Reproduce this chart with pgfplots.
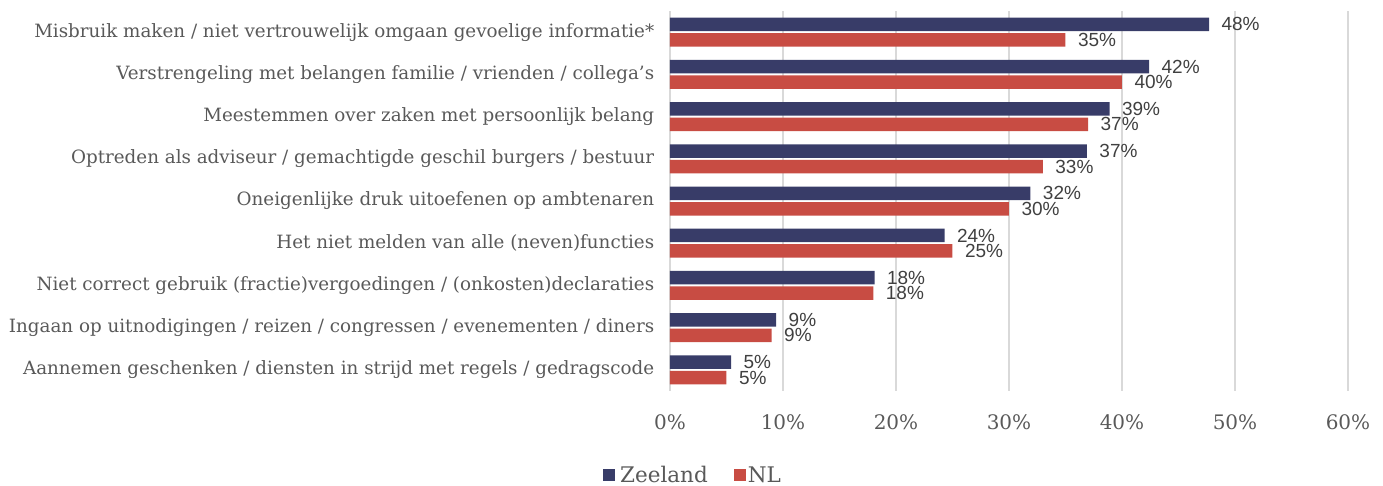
\documentclass[border=0pt]{standalone}
\usepackage{pgfplots}
\pgfplotsset{compat=1.18}
\usepackage{fontspec}
\setmainfont{DejaVu Serif}
\newfontfamily\numfont{Liberation Sans}
\definecolor{zee}{HTML}{383C68}
\definecolor{nl}{HTML}{C84C43}
\definecolor{lbl}{HTML}{595959}
\definecolor{dl}{HTML}{404040}
\definecolor{gridc}{HTML}{D9D9D9}
\begin{document}
\begin{tikzpicture}
\useasboundingbox (-670pt,-95pt) rectangle (713pt,391pt);
\begin{axis}[
  at={(0pt,0pt)}, anchor=south west,
  scale only axis, width=678pt, height=380pt,
  xmin=0, xmax=60, ymin=0.5, ymax=9.5, y dir=reverse,
  xtick={0,10,...,60},
  xticklabel={\pgfmathprintnumber{\tick}\%},
  /pgf/number format/assume math mode=true,
  xticklabel style={font=\fontsize{20}{24}\selectfont, text=lbl, yshift=-20pt},
  ytick={1,...,9},
  yticklabels={
    {Misbruik maken / niet vertrouwelijk omgaan gevoelige informatie*},
    {Verstrengeling met belangen familie / vrienden / collega's},
    {Meestemmen over zaken met persoonlijk belang},
    {Optreden als adviseur / gemachtigde geschil burgers / bestuur},
    {Oneigenlijke druk uitoefenen op ambtenaren},
    {Het niet melden van alle (neven)functies},
    {Niet correct gebruik (fractie)vergoedingen / (onkosten)declaraties},
    {Ingaan op uitnodigingen / reizen / congressen / evenementen / diners},
    {Aannemen geschenken / diensten in strijd met regels / gedragscode}},
  yticklabel style={font=\fontsize{18.3}{22}\selectfont, text=lbl, xshift=-8pt},
  axis line style={draw=none},
  tick style={draw=none},
  xmajorgrids,
  major grid style={draw=gridc, line width=1.2pt},
  xbar, bar width=13.5pt,
  nodes near coords={\pgfmathprintnumber[fixed,precision=0]{\pgfplotspointmeta}\%},
  nodes near coords style={font=\numfont\fontsize{19}{22}\selectfont, text=dl, anchor=west, xshift=9pt},
  point meta=explicit,
  legend style={at={(0.034,-0.222)}, anchor=center, draw=none, legend columns=2,
    font=\fontsize{21.5}{24}\selectfont, text=lbl, fill=none, inner sep=1pt,
    /tikz/every even column/.append style={column sep=24pt}},
  legend image code/.code={\fill[#1] (0pt,-6pt) rectangle (12pt,6pt);},
  legend cell align=left,
]
\addplot[fill=zee, draw=none, bar shift=7.75pt] coordinates {
  (47.7,1) [47.7] (42.4,2) [42.4] (38.9,3) [38.9] (36.9,4) [36.9] (31.9,5) [31.9]
  (24.3,6) [24.3] (18.1,7) [18.1] (9.4,8) [9.4] (5.4,9) [5.4]};
\addlegendentry{\hspace{3pt}Zeeland}
\addplot[fill=nl, draw=none, bar shift=-7.75pt] coordinates {
  (35.0,1) [35.0] (40.0,2) [40.0] (37.0,3) [37.0] (33.0,4) [33.0] (30.0,5) [30.0]
  (25.0,6) [25.0] (18.0,7) [18.0] (9.0,8) [9.0] (5.0,9) [5.0]};
\addlegendentry{NL}
\end{axis}
\end{tikzpicture}
\end{document}
